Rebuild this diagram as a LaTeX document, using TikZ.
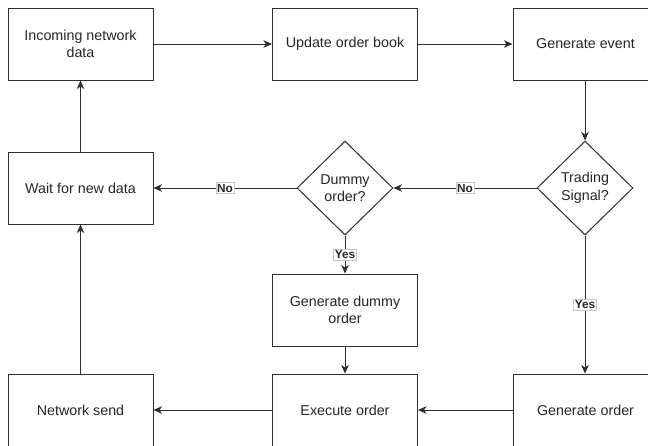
\documentclass[tikz,border=0pt]{standalone}
\usepackage{fontspec}
\setmainfont{Liberation Sans}
\usetikzlibrary{shapes.geometric,arrows.meta}
\definecolor{ink}{HTML}{2E2E2E}
\definecolor{txt}{HTML}{262626}
\definecolor{lblborder}{HTML}{C8C8C8}
\tikzset{
  box/.style={draw=ink, line width=1pt, fill=white, minimum width=145pt, minimum height=72pt,
    inner sep=2pt, align=center, text=txt, font=\fontsize{14.3}{17.5}\selectfont},
  decision/.style={draw=ink, line width=1pt, fill=white, diamond, minimum width=96pt, minimum height=94pt,
    inner sep=0pt, align=center, text=txt, font=\fontsize{14.3}{17.5}\selectfont},
  conn/.style={draw=ink, line width=1pt, -{Stealth[length=8.5pt,width=7.5pt,inset=2.5pt]}},
  lbl/.style={fill=white, draw=lblborder, line width=0.6pt, inner sep=1.2pt, text=txt,
    font=\fontsize{11.8}{13}\selectfont\bfseries}
}
\begin{document}
\begin{tikzpicture}[x=1pt,y=-1pt]
\useasboundingbox[fill=white] (0,0) rectangle (648,445);
% nodes
\node[box] (inc) at (80.5,44) {Incoming network\\data};
\node[box] (upd) at (345,44) {Update order book};
\node[box] (gev) at (585.5,44) {Generate event};
\node[box] (wait) at (80.5,188) {Wait for new data};
\node[decision] (dum) at (345,188) {Dummy\\order?};
\node[decision] (ts) at (585,188) {Trading\\Signal?};
\node[box] (gdum) at (345,310) {Generate dummy\\order};
\node[box] (ns) at (80.5,410) {Network send};
\node[box] (exe) at (345,410) {Execute order};
\node[box] (gord) at (585.5,410) {Generate order};
% connectors
\draw[conn] (inc.east) -- (upd.west);
\draw[conn] (upd.east) -- (gev.west);
\draw[conn] (gev.south -| ts.north) -- (ts.north);
\draw[conn] (ts.west) -- node[lbl] {No} (dum.east);
\draw[conn] (dum.west) -- node[lbl] {No} (wait.east);
\draw[conn] (dum.south) -- node[lbl] {Yes} (gdum.north);
\draw[conn] (ts.south) -- node[lbl] {Yes} (ts.south |- gord.north);
\draw[conn] (gdum.south) -- (exe.north);
\draw[conn] (gord.west) -- (exe.east);
\draw[conn] (exe.west) -- (ns.east);
\draw[conn] (ns.north) -- (wait.south);
\draw[conn] (wait.north) -- (inc.south);
\end{tikzpicture}
\end{document}
